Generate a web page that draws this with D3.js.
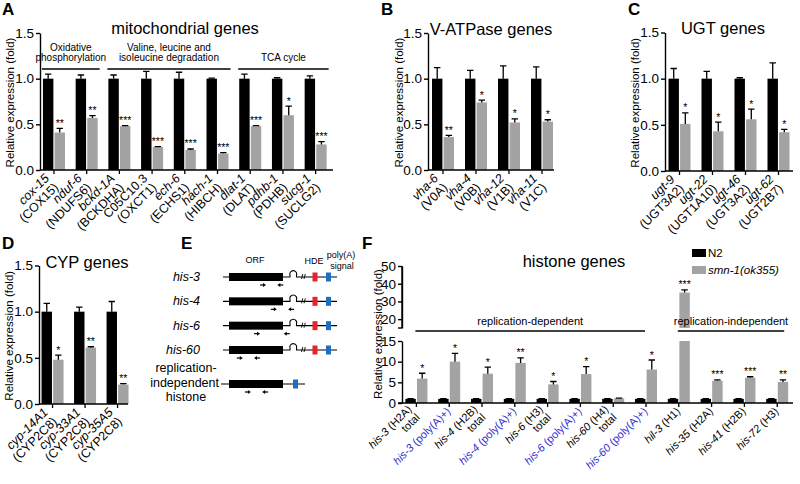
<!DOCTYPE html>
<html><head><meta charset="utf-8">
<script src="https://cdn.jsdelivr.net/npm/d3@7"></script>
<style>
body{margin:0;background:#fff}
svg{display:block}
text{font-family:Arial,"Liberation Sans",Helvetica,sans-serif;fill:#000}
</style>
</head><body>
<script>
// ---------------- DATA ----------------
const mitoGenes=["cox-15","nduf-6","bckd-1A","C05C10.3","ech-6","hach-1","dlat-1","pdhb-1","sucg-1"];
const mitoHuman=["(COX15)","(NDUFS6)","(BCKDHA)","(OXCT1)","(ECHS1)","(HIBCH)","(DLAT)","(PDHB)","(SUCLG2)"];
const mitoN2=[1,1,1,1,1,1,1,1,1];
const mitoN2Err=[0.05,0.04,0.04,0.08,0.07,0.005,0.05,0.01,0.03];
const mitoSmn=[0.41,0.57,0.48,0.25,0.22,0.18,0.48,0.60,0.28];
const mitoSmnErr=[0.045,0.025,0.005,0.005,0.01,0.01,0.005,0.10,0.03];
const mitoSig=["**","**","***","***","***","***","***","*","***"];
const mitoGroupNames=[["Oxidative","phosphorylation"],["Valine, leucine and","isoleucine degradation"],["TCA cycle"]];
const mitoGroupFrom=[0,2,6];
const mitoGroupTo=[1,5,8];

const vhaGenes=["vha-6","vha-4","vha-12","vha-11"];
const vhaHuman=["(V0A)","(V0B)","(V1B)","(V1C)"];
const vhaN2=[1,1,1,1];
const vhaN2Err=[0.12,0.09,0.14,0.13];
const vhaSmn=[0.36,0.74,0.52,0.53];
const vhaSmnErr=[0.02,0.025,0.04,0.02];
const vhaSig=["**","*","*","*"];

const ugtGenes=["ugt-9","ugt-22","ugt-46","ugt-62"];
const ugtHuman=["(UGT3A2)","(UGT1A10)","(UGT3A2)","(UGT2B7)"];
const ugtN2=[1,1,1,1];
const ugtN2Err=[0.11,0.08,0.01,0.17];
const ugtSmn=[0.51,0.43,0.56,0.42];
const ugtSmnErr=[0.12,0.10,0.11,0.03];
const ugtSig=["*","*","*","*"];

const cypGenes=["cyp-14A1","cyp-33A1","cyp-35A5"];
const cypHuman=["(CYP2C8)","(CYP2C8)","(CYP2C8)"];
const cypN2=[1,1,1];
const cypN2Err=[0.09,0.05,0.11];
const cypSmn=[0.48,0.61,0.21];
const cypSmnErr=[0.05,0.01,0.01];
const cypSig=["*","**","**"];

const yTicks=[0,0.5,1.0,1.5];

const histN2=[1,1,1,1,1,1,1,1,1,1,1,1];
const histN2Err=[0.08,0.08,0.08,0.08,0.08,0.08,0.08,0.08,0.08,0.08,0.08,0.08];
const histSmn=[5.9,10.0,7.1,9.7,4.5,7.0,1.1,8.1,35,5.4,6.1,5.1];
const histSmnErr=[1.3,2.0,1.6,1.2,0.7,1.8,0.1,2.3,1.5,0.2,0.25,0.5];
const histSig=["*","*","*","**","*","*","","*","***","***","***","**"];
const histLabelLine1=["his-3 (H2A)","his-3 (poly(A)+)","his-4 (H2B)","his-4 (poly(A)+)","his-6 (H3)","his-6 (poly(A)+)","his-60 (H4)","his-60 (poly(A)+)","hil-3 (H1)","his-35 (H2A)","his-41 (H2B)","his-72 (H3)"];
const histLabelLine2=["total","","total","","total","","total","","","","",""];
const histPolyA=[false,true,false,true,false,true,false,true,false,false,false,false];
const histLowTicks=[0,5,10,15];
const histHighTicks=[20,30,40,50];
const histBrackets=["replication-dependent","replication-independent"];
const histBracketFrom=[0,8];
const histBracketTo=[7,11];
const legendLabels=["N2","smn-1(ok355)"];

const eGenes=["his-3","his-4","his-6","his-60"];

// ---------------- DRAW ----------------
const W=800,H=484;
const svg=d3.select("body").append("svg").attr("width",W).attr("height",H);
const GREY="#a3a3a3";
const BLUE="#2f2fd0";

function styleAxis(a){
  a.selectAll("path,line").attr("stroke","#000").attr("stroke-width",1.4);
  a.selectAll("text").attr("font-size",13.5).attr("fill","#000");
}
function ylabel(x,yc,size){
  svg.append("text").attr("transform",`translate(${x},${yc}) rotate(-90)`)
    .attr("text-anchor","middle").attr("font-size",size||11.5).text("Relative expression (fold)");
}
function letter(t,x,y){
  svg.append("text").attr("x",x).attr("y",y).attr("font-size",17).attr("font-weight","bold").text(t);
}
// rotated multi-line tick labels; item = {x, lines:[{t, it, fill}]}
function rotLabels(g,items,y0,fs,lh,off2,off1){
  const t=g.append("g").selectAll("text").data(items).join("text")
    .attr("transform",d=>{const o=d.lines.length>1?off2:off1;return `translate(${d.x+o[0]},${y0+o[1]}) rotate(-45)`;})
    .attr("text-anchor","end").attr("font-size",fs);
  t.each(function(d){
    const el=d3.select(this);
    d.lines.forEach((ln,k)=>{
      const sp=el.append("tspan").attr("x",0).attr("dy",k===0?0:lh).style("fill",ln.fill||"#000");
      const s=ln.t, j=s.indexOf(" ");
      if(!ln.it){sp.text(s);}
      else if(j<0){sp.append("tspan").attr("font-style","italic").text(s);}
      else{sp.append("tspan").attr("font-style","italic").text(s.slice(0,j));sp.append("tspan").text(s.slice(j));}
    });
  });
}

function barPanel(o){
  const g=svg.append("g");
  const n=o.genes.length;
  const x=d3.scaleBand().domain(d3.range(n)).range(o.xr);
  const cx=i=>x(i)+x.bandwidth()/2;
  const sub=d3.scaleBand().domain(["n2","smn"]).range([-11,11]).paddingInner(0.1);
  const y=d3.scaleLinear().domain([0,1.5]).range(o.yr);
  const series=[{k:"n2",v:o.n2,e:o.n2e,fill:"#000"},{k:"smn",v:o.smn,e:o.smne,fill:GREY}];
  series.forEach(s=>{
    g.append("g").selectAll("rect").data(s.v).join("rect")
      .attr("x",(d,i)=>cx(i)+sub(s.k)).attr("width",sub.bandwidth())
      .attr("y",d=>y(d)).attr("height",d=>y(0)-y(d)).attr("fill",s.fill);
    g.append("g").selectAll("path").data(s.v).join("path")
      .attr("d",(d,i)=>{const xm=cx(i)+sub(s.k)+sub.bandwidth()/2, yt=y(d+s.e[i]);
        return `M${xm},${y(d)}V${yt}M${xm-3.2},${yt}H${xm+3.2}`;})
      .attr("stroke","#000").attr("stroke-width",1.3).attr("fill","none");
  });
  g.append("g").selectAll("text").data(o.sig).join("text")
    .attr("transform",(d,i)=>`translate(${cx(i)+sub("smn")+sub.bandwidth()/2},${y(o.smn[i]+o.smne[i])-1.5}) rotate(0.01)`)
    .attr("text-anchor","middle").attr("font-size",10.5).text(d=>d);
  const ya=g.append("g").attr("transform",`translate(${o.ax0},0)`)
    .call(d3.axisLeft(y).tickValues(yTicks).tickFormat(d3.format(".1f")).tickSize(4).tickSizeOuter(0).tickPadding(2));
  styleAxis(ya);
  g.append("line").attr("x1",o.ax0).attr("x2",o.ax1).attr("y1",y(0)).attr("y2",y(0))
    .attr("stroke","#000").attr("stroke-width",1.4);
  g.append("g").selectAll("line").data(d3.range(n)).join("line")
    .attr("x1",i=>cx(i)).attr("x2",i=>cx(i)).attr("y1",y(0)).attr("y2",y(0)+4)
    .attr("stroke","#000").attr("stroke-width",1.3);
  const items=d3.range(n).map(i=>({x:cx(i),lines:[{t:o.genes[i],it:o.italic?o.italic[i]:true},{t:o.human[i],it:false}]}));
  rotLabels(g,items,y(0),12.5,13,[-4,9],[2,9]);
  svg.append("text").attr("x",o.titleX).attr("y",o.titleY).attr("text-anchor","middle")
    .attr("font-size",16.5).text(o.title);
  ylabel(o.ylabX,(y(0)+y(1.5))/2+1,11.5);
  return {x,cx,y};
}

// Panel A
letter("A",2,15);
const pA=barPanel({genes:mitoGenes,human:mitoHuman,n2:mitoN2,n2e:mitoN2Err,smn:mitoSmn,smne:mitoSmnErr,sig:mitoSig,
  italic:[true,true,true,false,true,true,true,true,true],
  xr:[37.6,332],yr:[170,33],ax0:40,ax1:333,title:"mitochondrial genes",titleX:185,titleY:34,ylabX:14});
mitoGroupNames.forEach((nm,k)=>{
  const x1=pA.cx(mitoGroupFrom[k])-12, x2=pA.cx(mitoGroupTo[k])+13;
  svg.append("line").attr("x1",x1).attr("x2",x2).attr("y1",69).attr("y2",69).attr("stroke","#000").attr("stroke-width",1.4);
  nm.forEach((t,j)=>{
    svg.append("text").attr("x",(x1+x2)/2).attr("y",61-(nm.length-1-j)*10.5)
      .attr("text-anchor","middle").attr("font-size",10).text(t);
  });
});

// Panel B
letter("B",381,15);
barPanel({genes:vhaGenes,human:vhaHuman,n2:vhaN2,n2e:vhaN2Err,smn:vhaSmn,smne:vhaSmnErr,sig:vhaSig,
  xr:[426.5,558.5],yr:[170,33],ax0:428,ax1:554,title:"V-ATPase genes",titleX:491,titleY:35,ylabX:403});

// Panel C
letter("C",628,15);
barPanel({genes:ugtGenes,human:ugtHuman,n2:ugtN2,n2e:ugtN2Err,smn:ugtSmn,smne:ugtSmnErr,sig:ugtSig,
  xr:[663,795],yr:[171,32.5],ax0:665,ax1:793,title:"UGT genes",titleX:723,titleY:34,ylabX:639});

// Panel D
letter("D",2,249);
barPanel({genes:cypGenes,human:cypHuman,n2:cypN2,n2e:cypN2Err,smn:cypSmn,smne:cypSmnErr,sig:cypSig,
  xr:[36.3,133.8],yr:[404,265.5],ax0:39,ax1:128,title:"CYP genes",titleX:87,titleY:268,ylabX:13});

// Panel E (schematic)
letter("E",181,249);
(function(){
  const g=svg.append("g");
  const rowY=d3.scalePoint().domain(eGenes).range([277,350]);
  const orf=d3.scaleLinear().domain([0,1]).range([229,283]);
  const fwd=[0.63,0.83,0.52,0.2], rev=[0.95,1.15,1.07,0.52];
  g.append("text").attr("x",255).attr("y",263).attr("text-anchor","middle").attr("font-size",9).text("ORF");
  g.append("text").attr("x",314).attr("y",264).attr("text-anchor","middle").attr("font-size",9).text("HDE");
  g.append("text").attr("x",341).attr("y",258).attr("text-anchor","middle").attr("font-size",9).text("poly(A)");
  g.append("text").attr("x",342).attr("y",269).attr("text-anchor","middle").attr("font-size",9).text("signal");
  function arrow(xc,yy,dir){
    g.append("path").attr("d",`M${xc-3*dir},${yy}H${xc+1*dir}`).attr("stroke","#000").attr("stroke-width",1.2);
    g.append("path").attr("d",`M${xc+3*dir},${yy}L${xc},${yy-2}L${xc},${yy+2}Z`).attr("fill","#000");
  }
  eGenes.forEach((gn,i)=>{
    const ry=rowY(gn);
    g.append("text").attr("x",200).attr("y",ry+4).attr("text-anchor","end").attr("font-size",12.5)
      .attr("font-style","italic").text(gn);
    g.append("path").attr("d",`M223,${ry}H${orf(0)}M${orf(1)},${ry}H290V${ry-2}A3.4,3.4 0 1 1 296.5,${ry-2}V${ry}H337`)
      .attr("stroke","#000").attr("stroke-width",1.1).attr("fill","none");
    g.append("path").attr("d",`M301.5,${ry+2}L302.8,${ry-3}M304,${ry+2}L305.3,${ry-3}`).attr("stroke","#000").attr("stroke-width",0.9);
    g.append("rect").attr("x",orf(0)).attr("y",ry-4).attr("width",orf(1)-orf(0)).attr("height",8).attr("fill","#000");
    g.append("rect").attr("x",312.5).attr("y",ry-4.5).attr("width",5).attr("height",9).attr("fill","#e8232b");
    g.append("rect").attr("x",326).attr("y",ry-4.5).attr("width",5).attr("height",9).attr("fill","#1f6fc1");
    arrow(orf(fwd[i]),ry+8,1);
    arrow(orf(rev[i]),ry+8,-1);
  });
  const ry=384;
  ["replication-","independent","histone"].forEach((t,j)=>{
    g.append("text").attr("x",j===1?219:186).attr("y",372+j*14.5).attr("text-anchor",j===1?"end":"middle")
      .attr("font-size",12.5).text(t);
  });
  g.append("path").attr("d",`M221,${ry}H305`).attr("stroke","#000").attr("stroke-width",1.1);
  g.append("rect").attr("x",orf(0)).attr("y",ry-4).attr("width",orf(1)-orf(0)).attr("height",8).attr("fill","#000");
  g.append("rect").attr("x",293).attr("y",ry-4.5).attr("width",5).attr("height",9).attr("fill","#1f6fc1");
  arrow(orf(0.35),ry+8,1);
  arrow(orf(0.67),ry+8,-1);
})();

// Panel F
letter("F",362,249);
(function(){
  const g=svg.append("g");
  const n=histSmn.length;
  const x=d3.scaleBand().domain(d3.range(n)).range([400,793.6]);
  const cx=i=>x(i)+x.bandwidth()/2;
  const sub=d3.scaleBand().domain(["n2","smn"]).range([-11,11]).paddingInner(0.1);
  const yLo=d3.scaleLinear().domain([0,15]).range([403,341]);
  const yHi=d3.scaleLinear().domain([15,50]).range([328,266]);
  const yv=v=>v<=15?yLo(v):yHi(v);
  const bx1=k=>cx(histBracketFrom[k])-1, bx2=k=>cx(histBracketTo[k])+(k===0?-1:7);
  histBrackets.forEach((t,k)=>{
    g.append("line").attr("x1",bx1(k)).attr("x2",bx2(k)).attr("y1",331).attr("y2",331).attr("stroke","#000").attr("stroke-width",1.4);
  });
  const series=[{k:"n2",v:histN2,e:histN2Err,fill:"#000"},{k:"smn",v:histSmn,e:histSmnErr,fill:GREY}];
  series.forEach(s=>{
    g.append("g").selectAll("rect").data(s.v).join("rect")
      .attr("x",(d,i)=>cx(i)+sub(s.k)).attr("width",sub.bandwidth())
      .attr("y",d=>yLo(Math.min(d,15))).attr("height",d=>yLo(0)-yLo(Math.min(d,15))).attr("fill",s.fill);
    g.append("g").selectAll("rect").data(s.v.map((d,i)=>({d,i})).filter(o=>o.d>15)).join("rect")
      .attr("x",o=>cx(o.i)+sub(s.k)).attr("width",sub.bandwidth())
      .attr("y",o=>yHi(o.d)).attr("height",o=>yHi(15)-yHi(o.d)).attr("fill",s.fill);
    g.append("g").selectAll("path").data(s.v).join("path")
      .attr("d",(d,i)=>{const xm=cx(i)+sub(s.k)+sub.bandwidth()/2, yt=yv(d+s.e[i]);
        return `M${xm},${yv(d)}V${yt}M${xm-3.2},${yt}H${xm+3.2}`;})
      .attr("stroke","#000").attr("stroke-width",1.3).attr("fill","none");
  });
  g.append("g").selectAll("text").data(histSig).join("text")
    .attr("transform",(d,i)=>`translate(${cx(i)+sub("smn")+sub.bandwidth()/2},${yv(histSmn[i]+histSmnErr[i])-1.5}) rotate(0.01)`)
    .attr("text-anchor","middle").attr("font-size",10.5).text(d=>d);
  histBrackets.forEach((t,k)=>{
    g.append("text").attr("x",(bx1(k)+bx2(k))/2).attr("y",324.5).attr("text-anchor","middle").attr("font-size",11).text(t);
  });
  const a1=g.append("g").attr("transform","translate(402,0)")
    .call(d3.axisLeft(yLo).tickValues(histLowTicks).tickSize(4).tickSizeOuter(0).tickPadding(2));
  const a2=g.append("g").attr("transform","translate(402,0)")
    .call(d3.axisLeft(yHi).tickValues(histHighTicks).tickSize(4).tickSizeOuter(0).tickPadding(2));
  styleAxis(a1); styleAxis(a2);
  g.append("line").attr("x1",398).attr("x2",402).attr("y1",yHi(15)).attr("y2",yHi(15)).attr("stroke","#000").attr("stroke-width",1.4);
  g.append("line").attr("x1",402).attr("x2",402).attr("y1",yHi(15)).attr("y2",yHi(50)).attr("stroke","#000").attr("stroke-width",1.4);
  g.append("line").attr("x1",398).attr("x2",793).attr("y1",yLo(0)).attr("y2",yLo(0)).attr("stroke","#000").attr("stroke-width",1.4);
  g.append("g").selectAll("line").data(d3.range(n)).join("line")
    .attr("x1",i=>cx(i)).attr("x2",i=>cx(i)).attr("y1",yLo(0)).attr("y2",yLo(0)+4)
    .attr("stroke","#000").attr("stroke-width",1.3);
  const items=d3.range(n).map(i=>{
    const lines=[{t:histLabelLine1[i],it:true,fill:histPolyA[i]?BLUE:"#000"}];
    if(histLabelLine2[i]) lines.push({t:histLabelLine2[i],it:false});
    return {x:cx(i),lines};
  });
  rotLabels(g,items,yLo(0),11,11.5,[-4,7],[2,9]);
  svg.append("text").attr("x",574).attr("y",267).attr("text-anchor","middle").attr("font-size",16.5).text("histone genes");
  ylabel(382,334,11.5);
  const lg=[{c:"#000",y:249},{c:GREY,y:266}];
  lg.forEach((l,k)=>{
    svg.append("rect").attr("x",692).attr("y",l.y).attr("width",14).attr("height",8).attr("fill",l.c);
    const t=svg.append("text").attr("x",708).attr("y",l.y+8).attr("font-size",11.5);
    if(k===0) t.text(legendLabels[0]);
    else { t.append("tspan").attr("font-style","italic").text(legendLabels[1]); }
  });
})();
</script>
</body></html>
